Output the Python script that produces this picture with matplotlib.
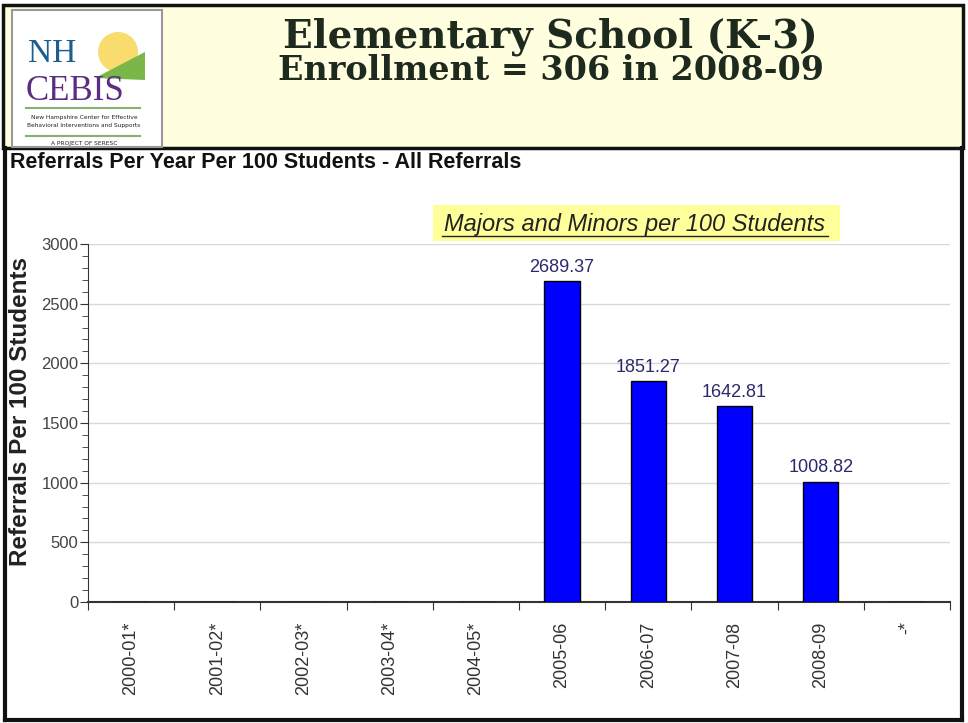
import matplotlib.pyplot as plt
import matplotlib.patches as patches
from matplotlib.ticker import MultipleLocator

# chart data
years = ["2000-01*", "2001-02*", "2002-03*", "2003-04*", "2004-05*",
         "2005-06", "2006-07", "2007-08", "2008-09", "-*"]
rates = [0, 0, 0, 0, 0, 2689.37, 1851.27, 1642.81, 1008.82, 0]
shown = [False, False, False, False, False, True, True, True, True, False]

title_line1 = "Elementary School (K-3)"
title_line2 = "Enrollment = 306 in 2008-09"
chart_title = "Referrals Per Year Per 100 Students - All Referrals"
legend_text = "Majors and Minors per 100 Students"
ylabel = "Referrals Per 100 Students"

SANS = ["Liberation Sans", "DejaVu Sans"]

W, H = 968, 723
fig = plt.figure(figsize=(W / 100, H / 100), dpi=100)
fig.patch.set_facecolor("white")


def fx(x):
    return x / W


def fy(y):
    return 1 - y / H


def hline(x0, x1, y, **kw):
    fig.add_artist(plt.Line2D([fx(x0), fx(x1)], [fy(y), fy(y)], transform=fig.transFigure, **kw))


def vline(x, y0, y1, **kw):
    fig.add_artist(plt.Line2D([fx(x), fx(x)], [fy(y0), fy(y1)], transform=fig.transFigure, **kw))


# header panel
fig.patches.append(patches.Rectangle((fx(3), fy(148)), fx(960), 143 / H,
                                     transform=fig.transFigure, facecolor="#ffffdf",
                                     edgecolor="#111111", linewidth=2.5, zorder=0))
# page frame below header
vline(5, 148, 720, color="#111111", lw=3)
vline(962, 148, 720, color="#111111", lw=3)
hline(5, 962, 720, color="#111111", lw=3)

# logo box
fig.patches.append(patches.Rectangle((fx(12), fy(147)), fx(150), 137 / H,
                                     transform=fig.transFigure, facecolor="white",
                                     edgecolor="#999999", linewidth=1.5, zorder=1))
fig.patches.append(patches.Ellipse((fx(118), fy(52)), 40 / W, 40 / H,
                                   transform=fig.transFigure, facecolor="#f7d44a",
                                   edgecolor="none", alpha=0.8, zorder=2))
fig.patches.append(patches.Polygon([(fx(95), fy(78)), (fx(145), fy(52)), (fx(145), fy(80))],
                                   closed=True, transform=fig.transFigure,
                                   facecolor="#7ab648", edgecolor="none", zorder=3))
fig.text(fx(28), fy(62), "NH", fontsize=24, family="Liberation Serif", color="#1c5f8f",
         va="baseline", zorder=4)
fig.text(fx(26), fy(100), "CEBIS", fontsize=25, family="Liberation Serif", color="#5a2d82",
         va="baseline", zorder=4)
hline(26, 140, 108, color="#88b070", lw=1.5)
fig.text(fx(84), fy(117), "New Hampshire Center for Effective", fontsize=4.2,
         ha="center", va="center", color="#222222")
fig.text(fx(84), fy(126), "Behavioral Interventions and Supports", fontsize=4.2,
         ha="center", va="center", color="#222222")
hline(26, 140, 136, color="#88b070", lw=1.5)
fig.text(fx(84), fy(144), "A PROJECT OF SERESC", fontsize=4.2, ha="center", va="center",
         color="#222222")

# header titles
fig.text(fx(550), fy(37), title_line1, fontsize=28, weight="bold", family="DejaVu Serif",
         color="#1f2a1f", ha="center", va="center")
fig.text(fx(551), fy(71), title_line2, fontsize=24, weight="bold", family="DejaVu Serif",
         color="#1f2a1f", ha="center", va="center")

# chart title
fig.text(fx(10), fy(163), chart_title, fontsize=15.5, weight="bold", family=SANS,
         color="#111111", ha="left", va="center")

# main axes
ax = fig.add_axes([fx(88), fy(602), 862 / W, 358 / H])
x = list(range(len(years)))
ax.bar(x, rates, width=0.41, color="#0000ff", edgecolor="#000000", linewidth=1, zorder=3)
for xi, v, s in zip(x, rates, shown):
    if s:
        ax.text(xi, v + 45, f"{v:.2f}", ha="center", va="bottom", fontsize=13,
                family=SANS, color="#2a2a6a")

ax.set_xlim(-0.5, len(years) - 0.5)
ax.set_ylim(0, 3000)
ax.yaxis.set_major_locator(MultipleLocator(500))
ax.yaxis.set_minor_locator(MultipleLocator(100))
ax.grid(axis="y", color="#d8d8d8", lw=1, zorder=0)
ax.set_axisbelow(True)
for sp in ["top", "right"]:
    ax.spines[sp].set_visible(False)
ax.spines["left"].set_color("#333333")
ax.spines["bottom"].set_color("#333333")
ax.spines["bottom"].set_linewidth(1.5)

ax.set_xticks([i - 0.5 for i in range(len(years) + 1)])
ax.set_xticklabels([])
ax.set_xticks(x, minor=True)
ax.set_xticklabels(years, minor=True, rotation=90, fontsize=13, family=SANS, color="#333333")
ax.tick_params(axis="x", which="major", length=6, direction="out", color="#333333")
ax.tick_params(axis="x", which="minor", length=0, pad=14)
ax.tick_params(axis="y", which="major", length=6, color="#333333", labelsize=12,
               labelcolor="#444444", pad=1)
ax.tick_params(axis="y", which="minor", length=4, color="#333333")
for lbl in ax.get_yticklabels():
    lbl.set_family(SANS)

fig.text(fx(21), fy(412), ylabel, rotation=90, fontsize=17.5, weight="bold", family=SANS,
         color="#222222", ha="center", va="center")

# legend box
fig.patches.append(patches.Rectangle((fx(433), fy(241)), 407 / W, 36 / H,
                                     transform=fig.transFigure, facecolor="#ffff99",
                                     edgecolor="none", zorder=1))
fig.text(fx(635), fy(224), legend_text, fontsize=17, style="italic", family=SANS,
         color="#222222", ha="center", va="center", zorder=2)
hline(442, 828, 236, color="#222222", lw=1)

fig.savefig("out.png", dpi=100)
